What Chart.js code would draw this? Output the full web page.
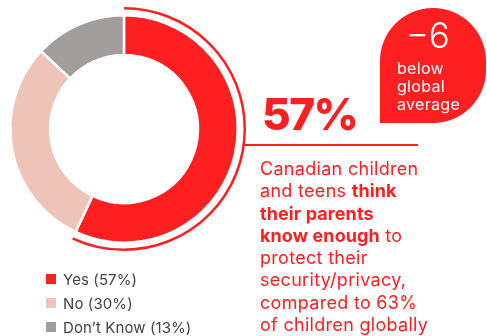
<!DOCTYPE html>
<html>
<head>
<meta charset="utf-8">
<script src="https://cdn.jsdelivr.net/npm/chart.js@4"></script>
<style>
  html, body { margin: 0; padding: 0; background: #fff; }
  body { width: 487px; height: 336px; position: relative; overflow: hidden; font-family: Inter, sans-serif; }
  #wrap { position: absolute; left: 0; top: 0; width: 487px; height: 336px; }
  .bubble {
    position: absolute; left: 380px; top: 8px; width: 106px; height: 115px;
    background: #fe1f21; border-radius: 53px 53px 53px 0; color: #fff;
  }
  .bubble .delta { position: absolute; left: 26px; top: 10px; font-size: 35px; font-weight: 300; line-height: 1; }
  .bubble .note { position: absolute; left: 17px; top: 51px; font-size: 16px; line-height: 18px; font-weight: 400; letter-spacing: 0.3px; }
  .big { position: absolute; left: 262px; top: 92px; font-size: 44px; font-weight: 800; color: #fe1f21; line-height: 1; letter-spacing: -1.5px; }
  .desc { position: absolute; left: 260px; top: 158px; font-size: 18px; line-height: 22.3px; color: #fe1f21; white-space: nowrap; letter-spacing: 0.3px; }
  .desc b { font-weight: 700; letter-spacing: 0.1px; }
  #legend { position: absolute; left: 46px; top: 267px; margin: 0; padding: 0; list-style: none; }
  #legend li { display: flex; align-items: center; height: 24px; font-size: 15px; color: #444; letter-spacing: 0.1px; }
  #legend span.box { width: 10px; height: 10px; margin-right: 7px; display: inline-block; }
</style>
</head>
<body>
<div id="wrap"><canvas id="donut" width="487" height="336"></canvas></div>
<div class="bubble"><div class="delta">−6</div><div class="note">below<br>global<br>average</div></div>
<div class="big">57%</div>
<div class="desc">Canadian children<br>and teens <b>think<br>their parents<br>know enough</b> to<br>protect their<br>security/privacy,<br>compared to 63%<br>of children globally</div>
<ul id="legend"></ul>
<script>
const categories = ["Yes", "No", "Don\u2019t Know"];
const shares = [57, 30, 13];
const colors = ["#fe1f21", "#efc4b8", "#a19d9c"];

// thin red ring around the "Yes" slice with a leader line to the headline figure
const highlightArc = {
  id: "highlightArc",
  afterDatasetsDraw(chart) {
    const arc = chart.getDatasetMeta(0).data[0];
    const c = chart.ctx;
    const r = arc.outerRadius + 7;
    c.save();
    c.strokeStyle = "#fe1f21";
    c.lineWidth = 2.5;
    c.beginPath();
    c.arc(arc.x, arc.y, r, arc.startAngle, arc.endAngle);
    c.stroke();
    const y = arc.y + 16;
    const x0 = arc.x + Math.sqrt(r * r - 16 * 16);
    c.lineWidth = 2;
    c.beginPath();
    c.moveTo(x0, y);
    c.lineTo(418, y);
    c.stroke();
    c.restore();
  }
};

// legend as html list, one item per row
const htmlLegend = {
  id: "htmlLegend",
  afterUpdate(chart) {
    const ul = document.getElementById("legend");
    ul.innerHTML = "";
    chart.options.plugins.legend.labels.generateLabels(chart).forEach((item, i) => {
      const li = document.createElement("li");
      const box = document.createElement("span");
      box.className = "box";
      box.style.background = item.fillStyle;
      li.appendChild(box);
      li.appendChild(document.createTextNode(item.text + " (" + shares[i] + "%)"));
      ul.appendChild(li);
    });
  }
};

new Chart(document.getElementById("donut"), {
  type: "doughnut",
  data: {
    labels: categories,
    datasets: [{
      data: shares,
      backgroundColor: colors,
      borderColor: "#fff",
      borderWidth: 2.5,
      hoverOffset: 0
    }]
  },
  options: {
    responsive: false,
    animation: false,
    cutout: "65%",
    layout: { padding: { left: 9, top: 14, right: 248, bottom: 92 } },
    plugins: {
      legend: { display: false },
      tooltip: { enabled: false }
    }
  },
  plugins: [highlightArc, htmlLegend]
});
</script>
</body>
</html>
